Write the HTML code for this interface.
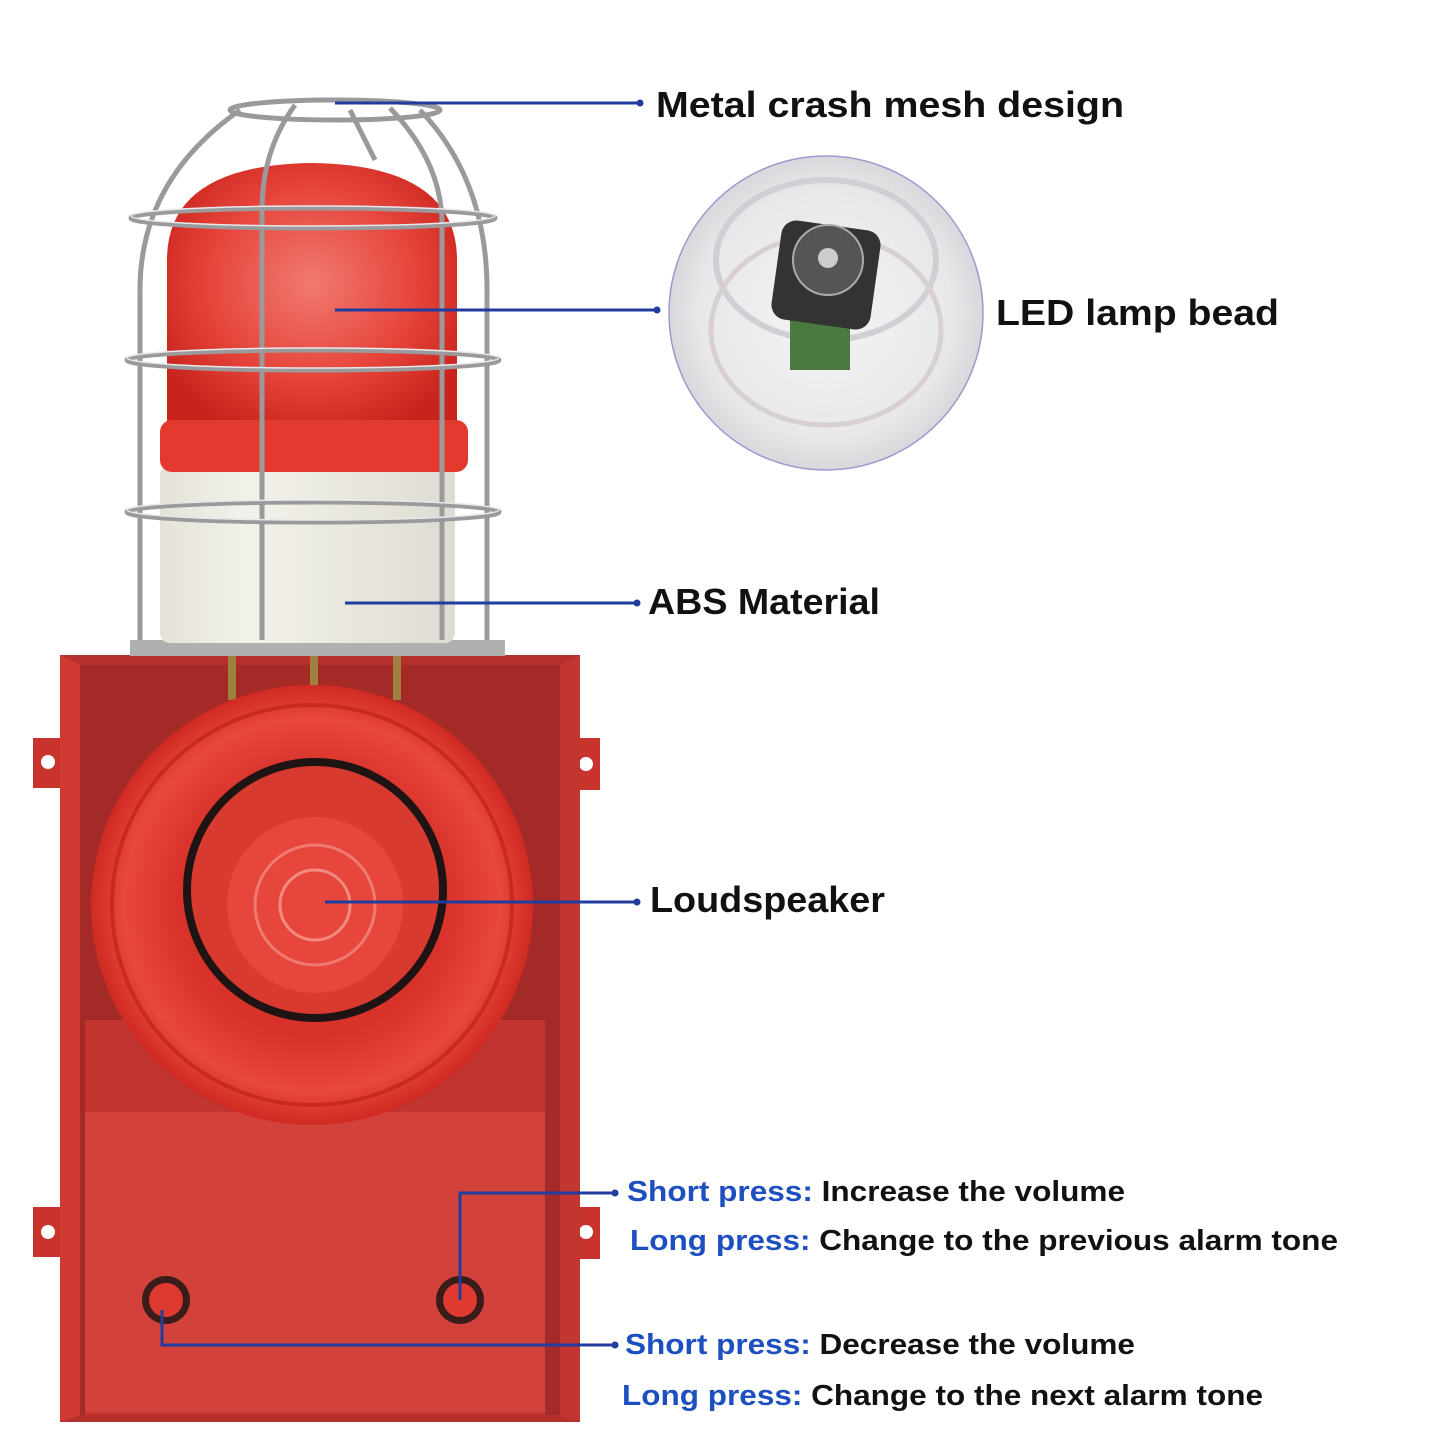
<!DOCTYPE html>
<html><head><meta charset="utf-8"><style>
html,body{margin:0;padding:0;background:#fff;}
svg{display:block}
text{font-family:"Liberation Sans",Arial,sans-serif;font-weight:bold}
</style></head><body>
<svg width="1445" height="1445" viewBox="0 0 1445 1445" xmlns="http://www.w3.org/2000/svg">
<defs>
<radialGradient id="dome" cx="0.5" cy="0.45" r="0.6"><stop offset="0" stop-color="#f07a70"/><stop offset="0.6" stop-color="#e6443a"/><stop offset="1" stop-color="#c8231c"/></radialGradient>
<linearGradient id="cream" x1="0" x2="1"><stop offset="0" stop-color="#e4e2d8"/><stop offset="0.3" stop-color="#f3f2ea"/><stop offset="1" stop-color="#dedcd2"/></linearGradient>
<radialGradient id="horn" cx="0.5" cy="0.5" r="0.5"><stop offset="0.6" stop-color="#d8322a"/><stop offset="0.85" stop-color="#e8473c"/><stop offset="1" stop-color="#d02a22"/></radialGradient>
<radialGradient id="led" cx="0.5" cy="0.5" r="0.5"><stop offset="0" stop-color="#f4f4f4"/><stop offset="0.8" stop-color="#e8e8ea"/><stop offset="1" stop-color="#d8d8dc"/></radialGradient>
</defs>

<!-- enclosure -->
<rect x="60" y="655" width="520" height="767" fill="#b5302c"/>
<path d="M33 738 h29 v50 h-29 z M33 1207 h29 v50 h-29 z M570 738 h30 v52 h-30 z M570 1207 h30 v52 h-30 z" fill="#c8332d"/>
<circle cx="48" cy="762" r="7" fill="#fff"/><circle cx="48" cy="1232" r="7" fill="#fff"/>
<circle cx="586" cy="764" r="7" fill="#fff"/><circle cx="586" cy="1232" r="7" fill="#fff"/>
<rect x="80" y="665" width="480" height="750" fill="#a42a27"/>
<rect x="85" y="1020" width="460" height="395" fill="#c2342f"/>
<polygon points="60,655 80,665 80,1415 60,1422" fill="#cf3a33"/>
<polygon points="580,655 560,665 560,1415 580,1422" fill="#c23530"/>
<rect x="85" y="1112" width="460" height="300" fill="#d2413a"/>
<!-- screws -->
<rect x="228" y="655" width="8" height="45" fill="#a08040"/>
<rect x="310" y="655" width="8" height="35" fill="#a08040"/>
<rect x="393" y="655" width="8" height="45" fill="#a08040"/>
<!-- horn -->
<ellipse cx="312" cy="905" rx="221" ry="220" fill="url(#horn)"/>
<ellipse cx="312" cy="905" rx="200" ry="200" fill="none" stroke="#c82a22" stroke-width="4"/>
<ellipse cx="315" cy="890" rx="132" ry="132" fill="#1e1414"/>
<ellipse cx="315" cy="890" rx="124" ry="124" fill="#d83a30"/>
<circle cx="315" cy="905" r="88" fill="#e6463c"/>
<circle cx="315" cy="905" r="60" fill="none" stroke="#f07a70" stroke-width="3"/>
<circle cx="315" cy="905" r="35" fill="none" stroke="#f28a80" stroke-width="3"/>
<!-- buttons -->
<circle cx="166" cy="1300" r="24" fill="#3a1c1a"/><circle cx="166" cy="1300" r="17" fill="#e03a30"/>
<circle cx="460" cy="1300" r="24" fill="#3a1c1a"/><circle cx="460" cy="1300" r="17" fill="#e03a30"/>

<!-- lamp base plate -->
<rect x="130" y="640" width="375" height="16" fill="#b0b0b0"/>
<rect x="160" y="465" width="295" height="178" rx="10" fill="url(#cream)"/>
<path d="M167 430 V260 Q167 165 312 163 Q457 165 457 260 V430 Z" fill="url(#dome)"/>
<rect x="160" y="420" width="308" height="52" rx="12" fill="#e23a2e"/>
<!-- cage -->
<g fill="none" stroke="#9a9a9c" stroke-width="5">
<ellipse cx="335" cy="110" rx="105" ry="10"/>
<ellipse cx="313" cy="218" rx="182" ry="10"/>
<ellipse cx="313" cy="360" rx="186" ry="10"/>
<ellipse cx="313" cy="512" rx="186" ry="10"/>
<path d="M140 640 V290 Q140 180 240 110"/>
<path d="M487 640 V290 Q487 180 420 110"/>
<path d="M262 640 V210 Q262 150 295 105"/>
<path d="M442 640 V220 Q440 160 390 108"/>
<path d="M350 110 L375 160"/>
</g>
<g fill="none" stroke="#e8e8ea" stroke-width="1.5">
<ellipse cx="313" cy="216" rx="182" ry="10"/>
<ellipse cx="313" cy="358" rx="186" ry="10"/>
<ellipse cx="313" cy="510" rx="186" ry="10"/>
</g>

<!-- LED inset -->
<circle cx="826" cy="313" r="157" fill="url(#led)" stroke="#9a9ad0" stroke-width="1.5"/>
<ellipse cx="826" cy="260" rx="110" ry="80" fill="none" stroke="#cfcfd4" stroke-width="6"/>
<ellipse cx="826" cy="330" rx="115" ry="95" fill="none" stroke="#d8d0d0" stroke-width="5"/>
<rect x="790" y="320" width="60" height="50" fill="#4a7a40"/>
<rect x="776" y="225" width="100" height="100" rx="15" fill="#333" transform="rotate(8 826 275)"/>
<circle cx="828" cy="260" r="35" fill="#555" stroke="#aaa" stroke-width="2"/>
<circle cx="828" cy="258" r="10" fill="#ccc"/>

<!-- connectors -->
<g stroke="#1f3c9e" stroke-width="3" fill="none">
<line x1="335" y1="103" x2="640" y2="103"/>
<line x1="335" y1="310" x2="657" y2="310"/>
<line x1="345" y1="603" x2="637" y2="603"/>
<line x1="325" y1="902" x2="637" y2="902"/>
<path d="M460 1300 V1193 H615"/>
<path d="M162 1310 V1345 H615"/>
</g>
<g fill="#1f3c9e">
<circle cx="640" cy="103" r="3.5"/><circle cx="657" cy="310" r="3.5"/><circle cx="637" cy="603" r="3.5"/>
<circle cx="637" cy="902" r="3.5"/><circle cx="615" cy="1193" r="3.5"/><circle cx="615" cy="1345" r="3.5"/>
</g>

<!-- labels -->
<text x="656" y="117" font-size="36" fill="#111" textLength="468" lengthAdjust="spacingAndGlyphs">Metal crash mesh design</text>
<text x="996" y="325" font-size="36" fill="#111" textLength="283" lengthAdjust="spacingAndGlyphs">LED lamp bead</text>
<text x="648" y="614" font-size="36" fill="#111" textLength="232" lengthAdjust="spacingAndGlyphs">ABS Material</text>
<text x="650" y="912" font-size="36" fill="#111" textLength="235" lengthAdjust="spacingAndGlyphs">Loudspeaker</text>
<text x="627" y="1201" font-size="29" textLength="498" lengthAdjust="spacingAndGlyphs"><tspan fill="#1d4fc0">Short press: </tspan><tspan fill="#111">Increase the volume</tspan></text>
<text x="630" y="1250" font-size="29" textLength="708" lengthAdjust="spacingAndGlyphs"><tspan fill="#1d4fc0">Long press: </tspan><tspan fill="#111">Change to the previous alarm tone</tspan></text>
<text x="625" y="1354" font-size="29" textLength="510" lengthAdjust="spacingAndGlyphs"><tspan fill="#1d4fc0">Short press: </tspan><tspan fill="#111">Decrease the volume</tspan></text>
<text x="622" y="1405" font-size="29" textLength="641" lengthAdjust="spacingAndGlyphs"><tspan fill="#1d4fc0">Long press: </tspan><tspan fill="#111">Change to the next alarm tone</tspan></text>
</svg>
</body></html>
